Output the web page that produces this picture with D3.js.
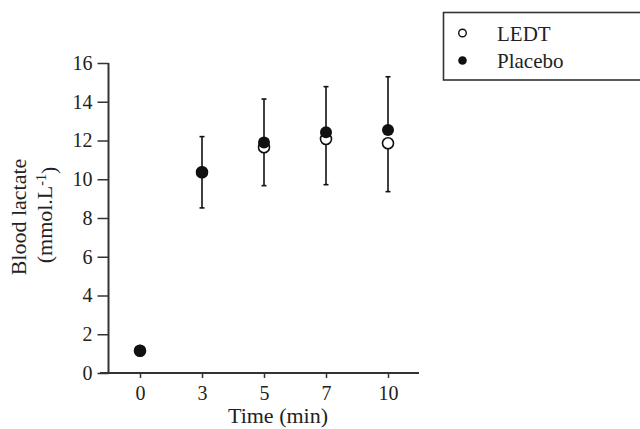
<!DOCTYPE html>
<html>
<head>
<meta charset="utf-8">
<script src="https://cdn.jsdelivr.net/npm/d3@7"></script>
<style>
  body { margin: 0; background: #fff; }
  text { font-family: "Liberation Serif", "Times New Roman", serif; fill: #222; }
</style>
</head>
<body>
<div id="chart"></div>
<script>
// values
var times = ["0", "3", "5", "7", "10"];
var ledtMean = [1.15, 10.36, 11.65, 12.08, 11.86];
var ledtLow = [1.15, 8.52, 9.67, 9.72, 9.36];     // lower SD bar
var placeboMean = [1.15, 10.36, 11.9, 12.42, 12.54];
var placeboHigh = [1.15, 12.2, 14.14, 14.78, 15.29]; // upper SD bar
var yTicks = [0, 2, 4, 6, 8, 10, 12, 14, 16];
var seriesNames = ["LEDT", "Placebo"];

var width = 640, height = 429;
var svg = d3.select("#chart").append("svg")
    .attr("width", width)
    .attr("height", height);

var x = d3.scalePoint().domain(times).range([140, 388]);
var y = d3.scaleLinear().domain([0, 16]).range([373, 63]);

// y axis
var yAxis = svg.append("g")
    .attr("transform", "translate(108.5,0)")
    .call(d3.axisLeft(y).tickValues(yTicks).tickSize(11).tickPadding(5));
yAxis.select(".domain").attr("stroke", "#333").attr("stroke-width", 2).attr("d", "M0,63V373");
yAxis.selectAll(".tick line").attr("stroke", "#333").attr("stroke-width", 1.5);
yAxis.selectAll(".tick text").style("font-size", "20px").attr("fill", "#222");

// x axis
var xAxis = svg.append("g")
    .attr("transform", "translate(0,373)")
    .call(d3.axisBottom(x).tickSize(5).tickPadding(8));
xAxis.select(".domain").attr("stroke", "#333").attr("stroke-width", 2).attr("d", "M100,0H419");
xAxis.selectAll(".tick line").attr("stroke", "#333").attr("stroke-width", 1.5);
xAxis.selectAll(".tick text").style("font-size", "20px").attr("fill", "#222");

// titles
svg.append("text")
    .attr("x", 278).attr("y", 423)
    .attr("text-anchor", "middle")
    .style("font-size", "22px")
    .text("Time (min)");

svg.append("text")
    .attr("transform", "translate(26,217) rotate(-90)")
    .attr("text-anchor", "middle")
    .style("font-size", "22px")
    .text("Blood lactate");

var t2 = svg.append("text")
    .attr("transform", "translate(52,215) rotate(-90)")
    .attr("text-anchor", "middle")
    .style("font-size", "22px");
t2.append("tspan").text("(mmol.L");
t2.append("tspan").attr("dy", "-0.45em").style("font-size", "14px").text("-1");
t2.append("tspan").attr("dy", "0.45em").text(")");

// error bars
function errorBar(data, ends) {
  var g = svg.append("g").attr("stroke", "#111").attr("stroke-width", 1.6);
  times.forEach(function(t, i) {
    if (Math.abs(ends[i] - data[i]) < 0.01) return;
    g.append("line")
        .attr("x1", x(t)).attr("x2", x(t))
        .attr("y1", y(data[i])).attr("y2", y(ends[i]));
    g.append("line")
        .attr("x1", x(t) - 2.5).attr("x2", x(t) + 2.5)
        .attr("y1", y(ends[i])).attr("y2", y(ends[i]));
  });
}
errorBar(ledtMean, ledtLow);
errorBar(placeboMean, placeboHigh);

// points
svg.append("g").selectAll("circle")
    .data(ledtMean)
    .enter().append("circle")
    .attr("cx", function(d, i) { return x(times[i]); })
    .attr("cy", function(d) { return y(d); })
    .attr("r", 5.5)
    .attr("fill", "#fff")
    .attr("stroke", "#111")
    .attr("stroke-width", 1.6);

svg.append("g").selectAll("circle")
    .data(placeboMean)
    .enter().append("circle")
    .attr("cx", function(d, i) { return x(times[i]); })
    .attr("cy", function(d) { return y(d); })
    .attr("r", 6)
    .attr("fill", "#111");

// legend
var legend = svg.append("g");
legend.append("rect")
    .attr("x", 443.5).attr("y", 12.5)
    .attr("width", 210).attr("height", 67.5)
    .attr("fill", "none")
    .attr("stroke", "#333")
    .attr("stroke-width", 1.6);

seriesNames.forEach(function(name, i) {
  var cy = 33 + i * 27.5;
  legend.append("circle")
      .attr("cx", 462.5).attr("cy", cy)
      .attr("r", i == 0 ? 3.8 : 4.3)
      .attr("fill", i == 0 ? "#fff" : "#111")
      .attr("stroke", "#111")
      .attr("stroke-width", i == 0 ? 1.4 : 0);
  legend.append("text")
      .attr("x", 497).attr("y", cy + 7.5)
      .style("font-size", "21px")
      .text(name);
});
</script>
</body>
</html>
